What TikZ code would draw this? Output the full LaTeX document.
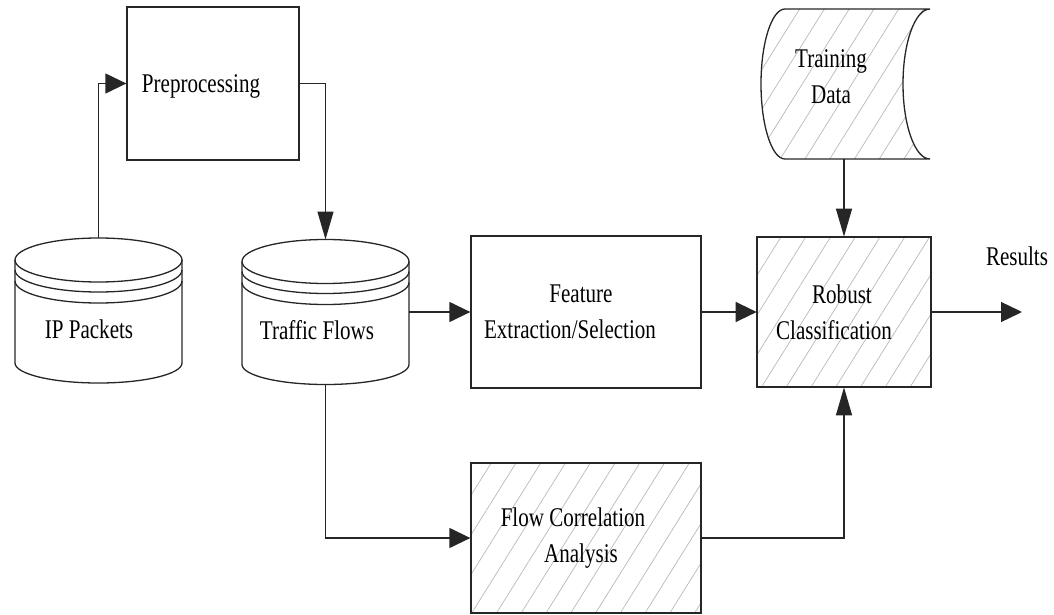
\documentclass[tikz,border=0pt]{standalone}
\usepackage{fontspec}
\setmainfont[FakeStretch=0.78]{Liberation Serif}
\usetikzlibrary{arrows.meta,calc,patterns.meta,backgrounds}

\tikzset{
  ink/.style={draw=black!85, line width=1.3pt},
  txt/.style={font=\fontsize{27}{36}\selectfont},
  box/.style={ink, txt, rectangle, inner sep=0pt, align=center},
  hatched/.style={pattern={Lines[angle=58,distance=21pt,line width=0.7pt]}, pattern color=black!28},
  holder/.style={inner sep=0pt, outer sep=0pt},
  lbl/.style={txt, inner sep=0pt, align=center},
  harr/.style={ink, -{Triangle[length=21pt,width=20pt]}},
  varr/.style={ink, -{Triangle[length=28pt,width=16pt]}},
}

% database drum drawn around a placeholder node of width 167 and height 145
\newcommand\drawdrum[1]{%
  \draw[ink] ($(#1.north)+(0,22)$) ellipse[x radius=83.5pt, y radius=22pt];
  \draw[ink] ($(#1.north west)+(0,32)$) arc[start angle=180, end angle=360, x radius=83.5pt, y radius=22pt];
  \draw[ink] ($(#1.north west)+(0,43)$) arc[start angle=180, end angle=360, x radius=83.5pt, y radius=22pt];
  \draw[ink] ($(#1.north west)+(0,22)$) -- ($(#1.south west)+(0,-20)$)
    arc[start angle=180, end angle=360, x radius=83.5pt, y radius=20pt]
    -- ($(#1.north east)+(0,22)$);
}

\begin{document}
\begin{tikzpicture}[x=1pt, y=-1pt]
\useasboundingbox (0,0) rectangle (1054,615);

% process boxes
\node[box, minimum width=172pt, minimum height=153pt] (pre) at (213,83.5)
  {\raisebox{-3pt}[\height][\depth]{Preprocessing}\hspace*{24pt}};
\node[box, minimum width=230pt, minimum height=152pt] (feat) at (586,312)
  {Feature\hspace*{10pt}\\Extraction/Selection\hspace*{32pt}};
\node[box, hatched, minimum width=174pt, minimum height=150pt] (rob) at (844,312)
  {Robust\hspace*{4pt}\\Classification\hspace*{20pt}};
\node[box, hatched, minimum width=230pt, minimum height=150pt] (corr) at (586,538)
  {Flow Correlation\hspace*{26pt}\\Analysis\hspace*{10pt}};

% data stores
\node[holder, minimum width=167pt, minimum height=145pt,
      label={[lbl, name=ipkText, xshift=-9.5pt, yshift=-18.5pt]center:IP Packets}]
  (ipk) at (98.5,310.5) {};
\node[holder, minimum width=167pt, minimum height=145pt,
      label={[lbl, name=tfText, xshift=-8.5pt, yshift=-18pt]center:Traffic Flows}]
  (tf) at (325.5,312) {};
\node[holder, minimum width=169pt, minimum height=150pt,
      label={[lbl, name=trainText, xshift=-14.5pt, yshift=7pt]center:Training\\Data}]
  (train) at (845.5,84) {};

\begin{pgfonlayer}{background}
  \drawdrum{ipk}
  \drawdrum{tf}
  \path[ink, hatched] ($(train.north west)+(24,0)$) -- (train.north east)
    arc[start angle=90, end angle=270, x radius=27pt, y radius=75pt]
    -- ($(train.south west)+(24,0)$)
    arc[start angle=270, end angle=90, x radius=24pt, y radius=75pt] -- cycle;
\end{pgfonlayer}

% output
\coordinate (resEnd) at (1022,312);
\node[lbl, anchor=base] (res) at (1017,265) {Results};

% connectors
\draw[harr] (ipk.north) |- (pre.west);
\draw[varr] (pre.east) -| (tf.north);
\draw[harr] (tf.east) -- (feat.west);
\draw[harr] (feat.east) -- (rob.west);
\draw[varr] (train.south -| rob.north) -- (rob.north);
\draw[harr] (rob.east) -- (resEnd);
\draw[harr] (tf.south) |- (corr.west);
\draw[varr] (corr.east) -| (rob.south);
\end{tikzpicture}
\end{document}
